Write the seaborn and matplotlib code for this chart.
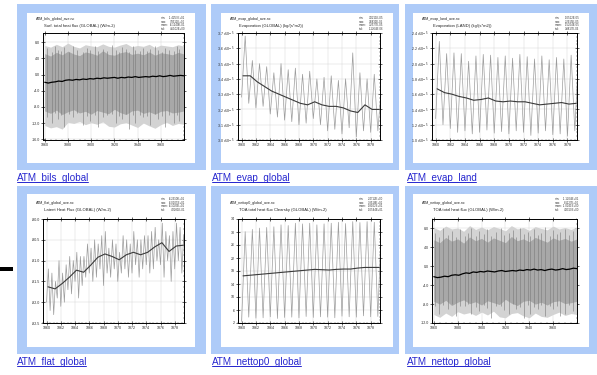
import matplotlib

matplotlib.use("Agg")

import matplotlib.pyplot as plt
import pandas as pd
import seaborn as sns
from matplotlib.lines import Line2D
from matplotlib.patches import Rectangle
from matplotlib.ticker import AutoMinorLocator

W, H = 597, 375
FRAME_BLUE = "#aecbf8"
LINK_BLUE = "#2626cf"
RAW_GRAY = "#9c9c9c"

# page text
LINKS = ["ATM_bils_global", "ATM_evap_global", "ATM_evap_land",
         "ATM_flat_global", "ATM_nettop0_global", "ATM_nettop_global"]
NC_FILES = ["ATM_bils_global_ave.nc", "ATM_evap_global_ave.nc", "ATM_evap_land_ave.nc",
            "ATM_flat_global_ave.nc", "ATM_nettop0_global_ave.nc", "ATM_nettop_global_ave.nc"]
SUBTITLES = ["Surf. total heat flux (GLOBAL) (W/m-2)",
             "Evaporation (GLOBAL) (kg/(s*m2))",
             "Evaporation (LAND) (kg/(s*m2))",
             "Latent Heat Flux (GLOBAL) (W/m-2)",
             "TOA total heat flux Clearsky (GLOBAL) (W/m-2)",
             "TOA total heat flux (GLOBAL) (W/m-2)"]
STAT_NAMES = ["min:", "max:", "mean:", "std:"]
STAT_VALUES = [
    ["-1.4257E+01", "7.8311E+00", "-8.1240E-01", "4.5102E+00"],
    ["3.0211E-05", "3.6832E-05", "3.2577E-05", "1.1264E-06"],
    ["1.0512E-05", "2.2915E-05", "1.5204E-05", "3.8817E-06"],
    ["-8.2310E+01", "-8.0105E+01", "-8.1023E+01", "4.2281E-01"],
    ["2.4712E+00", "3.3518E+01", "1.8102E+01", "1.0544E+01"],
    ["-1.1204E+01", "8.1127E+00", "-1.0241E+00", "4.3310E+00"],
]

# long runs (1860-1980): envelope of the monthly noise, every 5 years
LONG_ENV_YEARS = [1860, 1865, 1870, 1875, 1880, 1885, 1890, 1895, 1900, 1905, 1910, 1915, 1920,
                  1925, 1930, 1935, 1940, 1945, 1950, 1955, 1960, 1965, 1970, 1975, 1980]
bils_light_hi = [7.2, 6.8, 7.5, 6.9, 7.8, 7.0, 6.6, 7.4, 7.1, 6.9, 7.6, 7.0, 6.8,
                 7.3, 7.7, 6.9, 7.2, 7.0, 7.5, 6.7, 7.3, 7.1, 6.9, 7.4, 7.0]
bils_dark_hi = [5.2, 4.6, 5.5, 4.9, 5.8, 5.1, 4.7, 5.6, 5.3, 4.8, 5.9, 5.0, 4.8,
                5.4, 5.7, 5.0, 5.3, 4.9, 5.6, 4.8, 5.4, 5.2, 4.9, 5.5, 5.1]
bils_dark_lo = [-9.0, -9.6, -8.8, -9.9, -9.2, -8.7, -9.5, -9.1, -9.8, -8.9, -9.3, -9.7, -8.6,
                -9.4, -9.9, -9.0, -8.8, -9.6, -9.2, -9.8, -9.1, -8.9, -9.5, -9.3, -9.0]
bils_light_lo = [-12.6, -13.2, -12.9, -13.5, -11.8, -12.1, -11.6, -12.4, -11.9, -12.3, -11.7, -12.8, -13.0,
                 -12.2, -11.9, -12.5, -13.1, -12.0, -12.7, -13.3, -12.4, -11.8, -12.6, -12.1, -12.3]
# single monthly excursions seen as dark vertical streaks (year, low end, high end)
bils_streak_years = [1862, 1866, 1869, 1871, 1874, 1877, 1881, 1884, 1888, 1893, 1896, 1899, 1903,
                     1906, 1910, 1914, 1918, 1921, 1924, 1927, 1930, 1933, 1936, 1938, 1942,
                     1945, 1948, 1951, 1955, 1958, 1961, 1964, 1967, 1971, 1974, 1976]
bils_streak_lo = [-10.5, -12.0, -9.5, -11.0, -10.0, -13.0, -9.8, -10.5, -9.6, -12.5, -10.2, -11.5, -9.9,
                  -13.0, -10.4, -10.0, -9.7, -12.0, -10.3, -11.0, -9.8, -13.5, -10.1, -12.0, -9.9,
                  -10.5, -10.2, -12.5, -9.7, -11.0, -10.3, -13.0, -9.9, -12.0, -10.1, -11.5]
bils_streak_hi = [6.5, 5.5, 7.0, 6.0, 5.8, 6.8, 5.6, 7.2, 6.1, 5.7, 6.6, 6.2, 7.1,
                  5.9, 6.4, 5.8, 7.3, 6.0, 5.7, 6.9, 6.3, 5.6, 7.0, 6.1, 5.9,
                  6.7, 5.8, 6.4, 7.2, 6.0, 5.7, 6.6, 6.2, 5.9, 7.0, 6.3]

nettop_light_hi = [8.2, 7.6, 8.5, 7.9, 8.1, 7.4, 8.6, 7.8, 8.3, 7.7, 8.4, 8.0, 7.5,
                   8.6, 7.9, 8.2, 7.6, 8.4, 8.0, 7.7, 8.5, 7.9, 8.2, 7.8, 8.3]
nettop_dark_hi = [5.6, 5.0, 6.1, 5.3, 5.8, 4.9, 6.2, 5.4, 5.9, 5.1, 6.0, 5.5, 5.0,
                  6.3, 5.4, 5.8, 5.2, 6.1, 5.6, 5.1, 6.0, 5.5, 5.9, 5.3, 5.8]
nettop_dark_lo = [-7.4, -8.0, -7.2, -8.3, -7.6, -7.1, -7.9, -7.5, -8.2, -7.3, -7.7, -8.1, -7.0,
                  -7.8, -8.3, -7.4, -7.2, -8.0, -7.6, -8.2, -7.5, -7.3, -7.9, -7.7, -7.4]
nettop_light_lo = [-10.2, -10.8, -9.9, -10.6, -9.6, -10.1, -9.8, -10.4, -9.7, -10.3, -9.5, -10.7, -10.9,
                   -10.0, -9.8, -10.5, -10.9, -9.9, -10.6, -10.8, -10.2, -9.7, -10.4, -10.0, -10.2]
nettop_streak_years = [1861, 1864, 1868, 1872, 1875, 1879, 1882, 1886, 1889, 1891, 1895, 1898, 1902,
                       1905, 1908, 1912, 1916, 1919, 1923, 1926, 1929, 1932, 1936, 1939, 1941,
                       1944, 1947, 1950, 1953, 1957, 1960, 1963, 1966, 1970, 1973, 1977]
nettop_streak_lo = [-8.5, -10.0, -8.2, -9.0, -8.0, -10.5, -8.4, -8.5, -7.9, -10.0, -8.6, -9.5, -8.1,
                    -8.8, -11.0, -8.3, -8.5, -9.2, -10.0, -8.0, -9.0, -8.7, -11.0, -8.2, -10.0,
                    -8.6, -9.0, -8.1, -10.5, -8.4, -9.0, -8.3, -10.5, -10.0, -8.2, -9.5]
nettop_streak_hi = [7.0, 6.2, 8.0, 6.6, 7.4, 6.1, 7.8, 6.5, 7.1, 8.2, 6.3, 7.5, 6.8,
                    7.9, 6.4, 7.2, 8.1, 6.6, 7.0, 7.7, 6.2, 8.0, 6.9, 7.3, 6.5,
                    7.8, 6.7, 7.1, 8.3, 6.4, 7.6, 6.8, 7.2, 7.9, 6.6, 7.4]

# running means of the long runs, every 3 years 1860-1980
LONG_MEAN_YEARS = [1860, 1863, 1866, 1869, 1872, 1875, 1878, 1881, 1884, 1887, 1890, 1893, 1896, 1899,
                   1902, 1905, 1908, 1911, 1914, 1917, 1920, 1923, 1926, 1929, 1932, 1935, 1938,
                   1941, 1944, 1947, 1950, 1953, 1956, 1959, 1962, 1965, 1968, 1971, 1974, 1977, 1980]
bils_mean = [-1.9, -2.1, -1.9, -1.8, -1.6, -1.7, -1.4, -1.3, -1.4, -1.2, -1.3, -1.1, -1.2, -1.0,
             -1.1, -0.9, -1.0, -0.8, -0.9, -0.8, -0.7, -0.9, -0.7, -0.8, -0.6, -0.7, -0.5,
             -0.7, -0.6, -0.5, -0.6, -0.4, -0.5, -0.3, -0.5, -0.4, -0.2, -0.4, -0.3, -0.2, -0.3]
nettop_mean = [-2.2, -2.4, -2.3, -2.1, -2.2, -1.9, -1.8, -1.9, -1.6, -1.4, -1.5, -1.2, -1.3, -1.1,
               -1.2, -1.0, -1.1, -1.2, -1.0, -0.9, -1.1, -1.0, -0.9, -1.0, -0.8, -0.9, -0.7,
               -0.8, -0.6, -0.8, -0.7, -0.9, -0.7, -0.6, -0.8, -0.7, -0.5, -0.7, -0.6, -0.4, -0.5]

# short runs (1860-1879): yearly trough / peak of the monthly curve and yearly mean
SHORT_YEARS = [1860, 1861, 1862, 1863, 1864, 1865, 1866, 1867, 1868, 1869,
               1870, 1871, 1872, 1873, 1874, 1875, 1876, 1877, 1878, 1879]
evap_g_peak = [3.68, 3.52, 3.50, 3.48, 3.44, 3.50, 3.46, 3.47, 3.43, 3.45,
               3.40, 3.41, 3.42, 3.39, 3.40, 3.57, 3.44, 3.40, 3.43, 3.35]
evap_g_trough = [3.28, 3.24, 3.21, 3.22, 3.17, 3.15, 3.13, 3.12, 3.10, 3.11,
                 3.14, 3.10, 3.06, 3.07, 3.04, 3.08, 3.02, 3.06, 3.05, 3.06]
evap_g_mean = [3.42, 3.42, 3.38, 3.35, 3.32, 3.30, 3.28, 3.26, 3.24, 3.23,
               3.25, 3.23, 3.22, 3.22, 3.21, 3.19, 3.18, 3.23, 3.20, 3.20]

evap_l_peak = [2.29, 2.13, 2.14, 2.13, 2.03, 2.10, 2.12, 2.11, 2.08, 2.10,
               2.07, 2.12, 2.09, 2.06, 2.10, 2.05, 2.08, 2.06, 2.11, 2.10]
evap_l_trough = [1.28, 1.20, 1.15, 1.10, 1.12, 1.08, 1.10, 1.13, 1.09, 1.11,
                 1.08, 1.12, 1.10, 1.06, 1.09, 1.12, 1.07, 1.08, 1.05, 1.12]
evap_l_mean = [1.67, 1.62, 1.60, 1.57, 1.55, 1.52, 1.53, 1.55, 1.51, 1.50,
               1.51, 1.50, 1.50, 1.48, 1.46, 1.47, 1.48, 1.49, 1.47, 1.48]

nettop0_peak = [30.1, 30.8, 31.2, 31.4, 31.6, 32.2, 32.0, 32.7, 32.5, 32.7,
                32.2, 32.5, 32.7, 33.0, 32.6, 33.2, 32.9, 33.2, 33.0, 33.5]
nettop0_trough = [2.5, 3.8, 3.5, 3.6, 3.9, 3.4, 3.7, 3.8, 3.6, 4.0,
                  3.7, 3.9, 3.8, 3.6, 4.1, 3.9, 3.8, 4.2, 3.9, 4.0]
nettop0_mean = [16.5, 16.7, 16.9, 17.1, 17.3, 17.5, 17.7, 17.9, 18.1, 18.3,
                18.5, 18.4, 18.3, 18.5, 18.6, 18.6, 18.9, 19.1, 19.1, 19.1]

# latent heat flux: two troughs and two peaks per year
flat_peak = [-81.2, -81.3, -81.5, -81.0, -81.3, -81.1, -80.9, -81.0, -80.8, -80.9,
             -80.9, -80.6, -80.7, -80.5, -80.6, -80.4, -80.3, -80.7, -80.5, -80.6,
             -80.8, -80.4, -80.5, -80.6, -80.3, -80.5, -80.5, -80.4, -80.4, -80.3,
             -80.2, -80.5, -80.1, -80.3, -80.4, -80.3, -80.1, -80.2, -80.4, -80.3]
flat_trough = [-82.0, -82.2, -82.3, -81.9, -82.1, -82.0, -81.7, -81.8, -81.5, -81.9,
               -81.6, -81.4, -81.3, -81.5, -81.4, -81.2, -81.6, -81.3, -81.4, -81.2,
               -81.5, -81.3, -81.2, -81.4, -81.3, -81.1, -81.4, -81.2, -81.1, -81.3,
               -81.2, -81.0, -81.1, -81.4, -81.0, -81.5, -81.2, -81.0, -81.3, -81.1]
flat_mean = [-81.63, -81.68, -81.55, -81.40, -81.23, -81.28, -81.11, -80.92, -80.84, -80.90,
             -80.98, -80.86, -80.80, -80.86, -80.80, -80.67, -80.57, -80.78, -80.65, -80.63]

# page layout in pixels
COL_X = [17, 211, 405]
COL_W = [189, 188, 192]
ROW_Y = [4, 186]
ROW_H = [166, 168]
INNER_X = [27, 221, 413]
INNER_W = [168, 172, 176]
INNER_Y = [13, 194]
INNER_H = [150, 153]
AX_X = [43, 238, 432]
AX_W = [141, 142, 145]
AX_Y = [33, 219]
AX_H = [107, 104]
LINK_X = [17, 212, 407]
LINK_BASE = [181, 365]


def px_rect(x, y, w, h):
    return [x / W, 1 - (y + h) / H, w / W, h / H]


def fx(x):
    return x / W


def fy(y):
    return 1 - y / H


def zigzag(times_lo, lo, times_hi, hi):
    rows = [(t, v) for t, v in zip(times_lo, lo)] + [(t, v) for t, v in zip(times_hi, hi)]
    return pd.DataFrame(rows, columns=["t", "v"]).sort_values("t")


def style_axes(ax, xlim, xticks, ylim, yticks, ylabels):
    ax.set_xlim(*xlim)
    ax.set_ylim(*ylim)
    ax.set_xticks(xticks)
    ax.set_xticklabels([str(t) for t in xticks])
    ax.set_yticks(yticks)
    ax.set_yticklabels(ylabels)
    ax.xaxis.set_minor_locator(AutoMinorLocator(4))
    ax.yaxis.set_minor_locator(AutoMinorLocator(4))
    ax.tick_params(which="major", direction="inout", length=2.4, width=0.5,
                   labelsize=2.6, pad=1.2, top=True, right=True, bottom=True, left=True)
    ax.tick_params(which="minor", direction="in", length=1.0, width=0.3,
                   top=True, right=True, bottom=True, left=True)
    ax.grid(True, which="major", color="#d8d8d8", linewidth=0.35)
    ax.set_axisbelow(True)
    for spine in ax.spines.values():
        spine.set_linewidth(0.7)
        spine.set_color("black")
    ax.set_xlabel("")
    ax.set_ylabel("")


def draw_long(ax, light_hi, dark_hi, dark_lo, light_lo, streak_years, streak_lo, streak_hi, mean):
    ax.fill_between(LONG_ENV_YEARS, light_lo, light_hi, color="#d3d3d3", linewidth=0)
    ax.fill_between(LONG_ENV_YEARS, dark_lo, dark_hi, color="#a8a8a8", linewidth=0)
    ax.vlines(streak_years, streak_lo, streak_hi, color="#808080", linewidth=0.45)
    sns.lineplot(x=LONG_MEAN_YEARS, y=mean, ax=ax, color="black", linewidth=0.9)


def draw_short(ax, trough, peak, mean, peak_offset=0.5):
    lo_t = [y + 0.0 for y in SHORT_YEARS]
    hi_t = [y + peak_offset for y in SHORT_YEARS]
    df = zigzag(lo_t, trough, hi_t, peak)
    sns.lineplot(data=df, x="t", y="v", ax=ax, color=RAW_GRAY, linewidth=0.5, sort=False)
    sns.lineplot(x=[y + 0.2 for y in SHORT_YEARS], y=mean, ax=ax, color="#3a3a3a", linewidth=0.8)


sns.set_theme(style="white")
plt.rcParams["font.family"] = ["Liberation Sans", "DejaVu Sans"]

fig = plt.figure(figsize=(W / 100, H / 100), dpi=100)
fig.patch.set_facecolor("white")

# blue frames and white thumbnail areas (drawn below the axes)
for r in range(2):
    for c in range(3):
        fig.patches.append(Rectangle((fx(COL_X[c]), fy(ROW_Y[r] + ROW_H[r])), COL_W[c] / W, ROW_H[r] / H,
                                     transform=fig.transFigure, facecolor=FRAME_BLUE, edgecolor="none",
                                     zorder=-10))
        fig.patches.append(Rectangle((fx(INNER_X[c]), fy(INNER_Y[r] + INNER_H[r])), INNER_W[c] / W, INNER_H[r] / H,
                                     transform=fig.transFigure, facecolor="white", edgecolor="none",
                                     zorder=-9))
fig.patches.append(Rectangle((0, fy(271)), 13 / W, 4 / H, transform=fig.transFigure,
                             facecolor="black", edgecolor="none", zorder=-9))

short_xticks = [1860, 1862, 1864, 1866, 1868, 1870, 1872, 1874, 1876, 1878]
short_xlim = (1859.5, 1879.3)
long_xticks = [1860, 1880, 1900, 1920, 1940, 1960]
long_xlim = (1858.5, 1980)

axes = []
for i in range(6):
    r, c = divmod(i, 3)
    ax = fig.add_axes(px_rect(AX_X[c], AX_Y[r], AX_W[c], AX_H[r]))
    ax.set_zorder(5)
    axes.append(ax)

# 1 surface heat flux
draw_long(axes[0], bils_light_hi, bils_dark_hi, bils_dark_lo, bils_light_lo,
          bils_streak_years, bils_streak_lo, bils_streak_hi, bils_mean)
yt = [-16, -12, -8, -4, 0, 4, 8]
style_axes(axes[0], long_xlim, long_xticks, (-16.2, 10.3), yt, [f"{v:.1f}" for v in yt])

# 2 global evaporation
draw_short(axes[1], evap_g_trough, evap_g_peak, evap_g_mean)
yt = [3.0, 3.1, 3.2, 3.3, 3.4, 3.5, 3.6, 3.7]
style_axes(axes[1], short_xlim, short_xticks, (3.0, 3.7), yt,
           [f"{v:.1f} x10$^{{-5}}$" for v in yt])

# 3 land evaporation
draw_short(axes[2], evap_l_trough, evap_l_peak, evap_l_mean)
yt = [1.0, 1.2, 1.4, 1.6, 1.8, 2.0, 2.2, 2.4]
style_axes(axes[2], short_xlim, short_xticks, (1.0, 2.4), yt,
           [f"{v:.1f} x10$^{{-5}}$" for v in yt])

# 4 latent heat flux
lo_t, hi_t = [], []
for y in SHORT_YEARS:
    lo_t += [y + 0.0, y + 0.5]
    hi_t += [y + 0.25, y + 0.75]
flat_df = zigzag(lo_t, flat_trough, hi_t, flat_peak)
sns.lineplot(data=flat_df, x="t", y="v", ax=axes[3], color=RAW_GRAY, linewidth=0.5, sort=False)
sns.lineplot(x=[y + 0.2 for y in SHORT_YEARS], y=flat_mean, ax=axes[3], color="#3a3a3a", linewidth=0.8)
yt = [-82.5, -82.0, -81.5, -81.0, -80.5, -80.0]
style_axes(axes[3], short_xlim, short_xticks, (-82.5, -80.0), yt, [f"{v:.1f}" for v in yt])

# 5 TOA clear-sky
draw_short(axes[4], nettop0_trough, nettop0_peak, nettop0_mean)
yt = [2, 6, 10, 14, 18, 22, 26, 30, 34]
style_axes(axes[4], short_xlim, short_xticks, (2, 34), yt, [str(v) for v in yt])

# 6 TOA total
draw_long(axes[5], nettop_light_hi, nettop_dark_hi, nettop_dark_lo, nettop_light_lo,
          nettop_streak_years, nettop_streak_lo, nettop_streak_hi, nettop_mean)
yt = [-12, -8, -4, 0, 4, 8]
style_axes(axes[5], long_xlim, long_xticks, (-12, 10), yt, [f"{v:.1f}" for v in yt])

# thumbnail headers and stats boxes
for i in range(6):
    r, c = divmod(i, 3)
    top = INNER_Y[r] + (6 if r == 0 else 9)
    fig.text(fx(INNER_X[c] + 9), fy(top), NC_FILES[i], fontsize=2.6, va="center", color="#222222")
    fig.text(fx(AX_X[c] + 1), fy(top + 7), SUBTITLES[i], fontsize=3.0, va="center", color="#222222")
    right = INNER_X[c] + INNER_W[c] - 10
    for k in range(4):
        yk = INNER_Y[r] + 5 + k * 3.6
        fig.text(fx(right - 24), fy(yk), STAT_NAMES[k], fontsize=2.0, va="center", color="#333333")
        fig.text(fx(right), fy(yk), STAT_VALUES[i][k], fontsize=2.0, va="center", ha="right", color="#333333")

# link captions with underline
link_texts = []
for i in range(6):
    r, c = divmod(i, 3)
    t = fig.text(fx(LINK_X[c]), fy(LINK_BASE[r]), LINKS[i], fontsize=7.1, color=LINK_BLUE,
                 va="baseline", ha="left")
    link_texts.append((t, r))
fig.canvas.draw()
renderer = fig.canvas.get_renderer()
for t, r in link_texts:
    bb = t.get_window_extent(renderer)
    yline = fy(LINK_BASE[r] + 1.3)
    fig.add_artist(Line2D([bb.x0 / W, (bb.x1 - 1.5) / W], [yline, yline], transform=fig.transFigure,
                          color=LINK_BLUE, linewidth=0.7))

fig.savefig("out.png", dpi=100, facecolor="white")
